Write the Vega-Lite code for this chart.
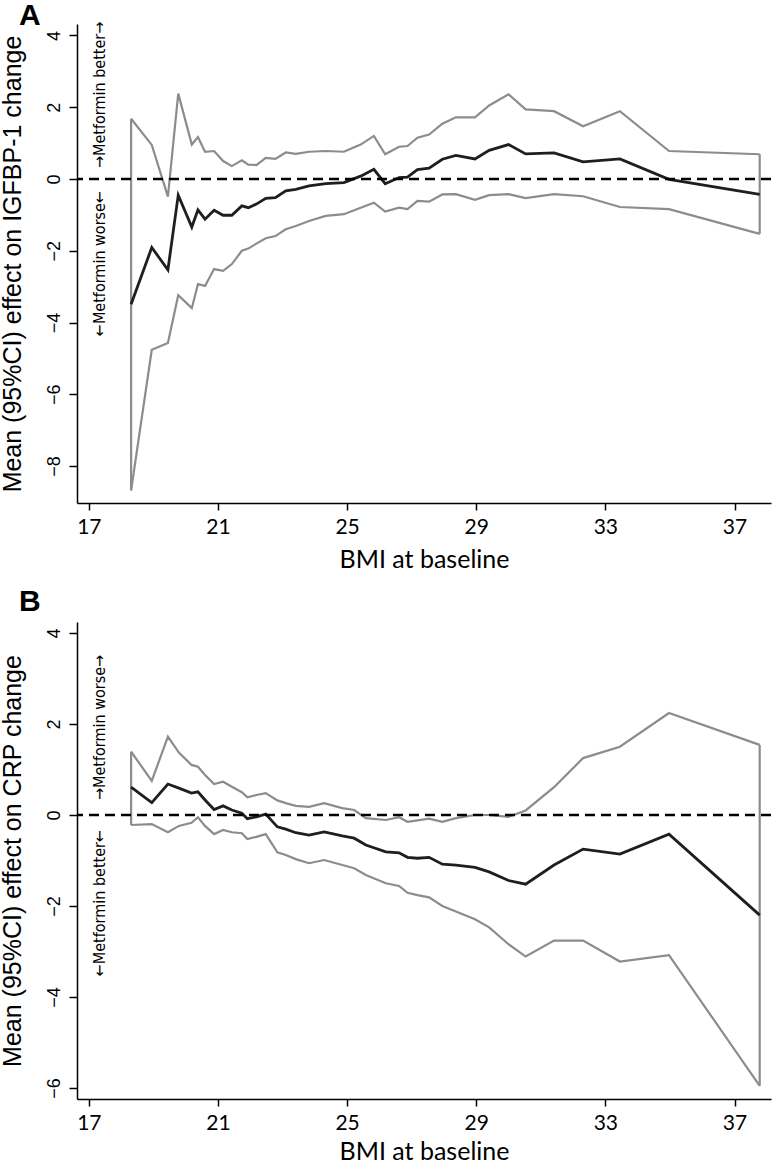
{
  "$schema": "https://vega.github.io/schema/vega-lite/v6.json",
  "padding": 0,
  "background": "white",
  "spacing": 15,
  "config": {"view": {"stroke": null}},
  "datasets": {
    "igf": [
      {"bmi": 18.31, "mean": -3.49, "lo": -8.68, "hi": 1.68},
      {"bmi": 18.95, "mean": -1.91, "lo": -4.76, "hi": 0.95},
      {"bmi": 19.45, "mean": -2.53, "lo": -4.57, "hi": -0.49},
      {"bmi": 19.77, "mean": -0.45, "lo": -3.24, "hi": 2.38},
      {"bmi": 20.19, "mean": -1.34, "lo": -3.60, "hi": 0.96},
      {"bmi": 20.38, "mean": -0.86, "lo": -2.93, "hi": 1.17},
      {"bmi": 20.60, "mean": -1.12, "lo": -2.98, "hi": 0.76},
      {"bmi": 20.88, "mean": -0.87, "lo": -2.51, "hi": 0.78},
      {"bmi": 21.16, "mean": -1.01, "lo": -2.56, "hi": 0.50},
      {"bmi": 21.43, "mean": -1.01, "lo": -2.37, "hi": 0.36},
      {"bmi": 21.74, "mean": -0.75, "lo": -2.00, "hi": 0.52},
      {"bmi": 21.94, "mean": -0.80, "lo": -1.94, "hi": 0.40},
      {"bmi": 22.19, "mean": -0.70, "lo": -1.80, "hi": 0.39},
      {"bmi": 22.48, "mean": -0.54, "lo": -1.65, "hi": 0.59},
      {"bmi": 22.78, "mean": -0.52, "lo": -1.59, "hi": 0.56},
      {"bmi": 23.10, "mean": -0.33, "lo": -1.40, "hi": 0.74},
      {"bmi": 23.41, "mean": -0.29, "lo": -1.31, "hi": 0.70},
      {"bmi": 23.82, "mean": -0.19, "lo": -1.17, "hi": 0.76},
      {"bmi": 24.34, "mean": -0.13, "lo": -1.03, "hi": 0.78},
      {"bmi": 24.90, "mean": -0.10, "lo": -0.98, "hi": 0.76},
      {"bmi": 25.42, "mean": 0.08, "lo": -0.80, "hi": 0.96},
      {"bmi": 25.83, "mean": 0.27, "lo": -0.66, "hi": 1.20},
      {"bmi": 26.18, "mean": -0.13, "lo": -0.91, "hi": 0.69},
      {"bmi": 26.61, "mean": 0.04, "lo": -0.80, "hi": 0.90},
      {"bmi": 26.87, "mean": 0.05, "lo": -0.84, "hi": 0.92},
      {"bmi": 27.18, "mean": 0.26, "lo": -0.61, "hi": 1.15},
      {"bmi": 27.54, "mean": 0.30, "lo": -0.63, "hi": 1.24},
      {"bmi": 27.95, "mean": 0.55, "lo": -0.43, "hi": 1.54},
      {"bmi": 28.37, "mean": 0.66, "lo": -0.42, "hi": 1.72},
      {"bmi": 28.96, "mean": 0.56, "lo": -0.58, "hi": 1.72},
      {"bmi": 29.40, "mean": 0.80, "lo": -0.45, "hi": 2.05},
      {"bmi": 30.00, "mean": 0.96, "lo": -0.42, "hi": 2.36},
      {"bmi": 30.53, "mean": 0.70, "lo": -0.53, "hi": 1.94},
      {"bmi": 31.41, "mean": 0.73, "lo": -0.42, "hi": 1.89},
      {"bmi": 32.31, "mean": 0.48, "lo": -0.48, "hi": 1.47},
      {"bmi": 33.45, "mean": 0.56, "lo": -0.78, "hi": 1.89},
      {"bmi": 34.97, "mean": -0.01, "lo": -0.84, "hi": 0.78},
      {"bmi": 37.78, "mean": -0.43, "lo": -1.53, "hi": 0.69}
    ],
    "crp": [
      {"bmi": 18.31, "mean": 0.61, "lo": -0.22, "hi": 1.39},
      {"bmi": 18.95, "mean": 0.27, "lo": -0.20, "hi": 0.75},
      {"bmi": 19.45, "mean": 0.68, "lo": -0.38, "hi": 1.72},
      {"bmi": 19.79, "mean": 0.59, "lo": -0.24, "hi": 1.37},
      {"bmi": 20.18, "mean": 0.48, "lo": -0.17, "hi": 1.10},
      {"bmi": 20.38, "mean": 0.51, "lo": -0.05, "hi": 1.06},
      {"bmi": 20.60, "mean": 0.33, "lo": -0.24, "hi": 0.88},
      {"bmi": 20.88, "mean": 0.12, "lo": -0.42, "hi": 0.68},
      {"bmi": 21.16, "mean": 0.20, "lo": -0.33, "hi": 0.73},
      {"bmi": 21.43, "mean": 0.11, "lo": -0.38, "hi": 0.62},
      {"bmi": 21.74, "mean": 0.04, "lo": -0.40, "hi": 0.50},
      {"bmi": 21.91, "mean": -0.08, "lo": -0.53, "hi": 0.39},
      {"bmi": 22.19, "mean": -0.04, "lo": -0.48, "hi": 0.44},
      {"bmi": 22.48, "mean": 0.02, "lo": -0.42, "hi": 0.48},
      {"bmi": 22.84, "mean": -0.26, "lo": -0.82, "hi": 0.32},
      {"bmi": 23.10, "mean": -0.31, "lo": -0.88, "hi": 0.26},
      {"bmi": 23.41, "mean": -0.39, "lo": -0.97, "hi": 0.20},
      {"bmi": 23.82, "mean": -0.44, "lo": -1.06, "hi": 0.18},
      {"bmi": 24.29, "mean": -0.37, "lo": -0.99, "hi": 0.26},
      {"bmi": 24.85, "mean": -0.46, "lo": -1.10, "hi": 0.15},
      {"bmi": 25.22, "mean": -0.51, "lo": -1.17, "hi": 0.11},
      {"bmi": 25.58, "mean": -0.66, "lo": -1.32, "hi": -0.07},
      {"bmi": 26.20, "mean": -0.81, "lo": -1.50, "hi": -0.11},
      {"bmi": 26.61, "mean": -0.83, "lo": -1.56, "hi": -0.05},
      {"bmi": 26.87, "mean": -0.93, "lo": -1.71, "hi": -0.15},
      {"bmi": 27.18, "mean": -0.95, "lo": -1.76, "hi": -0.12},
      {"bmi": 27.54, "mean": -0.93, "lo": -1.81, "hi": -0.08},
      {"bmi": 27.95, "mean": -1.08, "lo": -2.00, "hi": -0.15},
      {"bmi": 28.37, "mean": -1.10, "lo": -2.12, "hi": -0.07},
      {"bmi": 28.96, "mean": -1.15, "lo": -2.29, "hi": 0.00},
      {"bmi": 29.40, "mean": -1.25, "lo": -2.47, "hi": 0.00},
      {"bmi": 30.00, "mean": -1.44, "lo": -2.84, "hi": -0.04},
      {"bmi": 30.53, "mean": -1.52, "lo": -3.11, "hi": 0.10},
      {"bmi": 31.41, "mean": -1.10, "lo": -2.76, "hi": 0.61},
      {"bmi": 32.31, "mean": -0.75, "lo": -2.76, "hi": 1.25},
      {"bmi": 33.45, "mean": -0.86, "lo": -3.22, "hi": 1.50},
      {"bmi": 34.97, "mean": -0.42, "lo": -3.08, "hi": 2.24},
      {"bmi": 37.78, "mean": -2.20, "lo": -5.95, "hi": 1.54}
    ],
    "annA": [
      {"label": "→Metformin better→", "bmi": 17.35, "eff": 0, "side": "up"},
      {"label": "←Metformin worse←", "bmi": 17.35, "eff": 0, "side": "down"}
    ],
    "annB": [
      {"label": "→Metformin worse→", "bmi": 17.35, "eff": 0, "side": "up"},
      {"label": "←Metformin better←", "bmi": 17.35, "eff": 0, "side": "down"}
    ]
  },
  "vconcat": [
    {
      "title": {"text": "A", "anchor": "start", "frame": "group", "font": "Liberation Sans", "fontSize": 30, "fontWeight": "bold", "color": "black", "dx": -58, "offset": -9},
      "width": 694,
      "height": 479,
      "layer": [
        {
          "data": {"name": "igf"},
          "mark": {"type": "line", "color": "#8c8c8c", "strokeWidth": 2.2},
          "encoding": {
            "x": {"field": "bmi", "type": "quantitative", "scale": {"domain": [16.634, 38.13], "nice": false, "zero": false},
              "axis": {"values": [17, 21, 25, 29, 33, 37], "title": "BMI at baseline", "labelFont": "Lato", "labelFontSize": 21, "labelColor": "black", "labelPadding": 6, "labelFlush": false, "tickSize": 7, "tickColor": "black", "tickWidth": 1.5, "domainColor": "black", "domainWidth": 1.5, "grid": false, "titleFont": "Lato", "titleFontSize": 25, "titleFontWeight": "normal", "titleColor": "black", "titlePadding": 10}},
            "y": {"field": "lo", "type": "quantitative", "scale": {"domain": [-9.03, 4.32], "nice": false, "zero": false},
              "axis": {"values": [-8, -6, -4, -2, 0, 2, 4], "format": "d", "title": "Mean (95%CI) effect on IGFBP-1 change", "labelAngle": 270, "labelFont": "Liberation Sans", "labelFontSize": 18, "labelColor": "black", "labelPadding": 6, "tickSize": 8, "tickColor": "black", "tickWidth": 1.5, "domainColor": "black", "domainWidth": 1.5, "grid": false, "titleFont": "Liberation Sans", "titleFontSize": 25, "titleFontWeight": "normal", "titleColor": "black", "titlePadding": 20,
                "encode": {"labels": {"update": {"angle": {"value": 270}, "align": {"value": "center"}, "baseline": {"value": "bottom"}}}}}}
          }
        },
        {
          "data": {"name": "igf"},
          "mark": {"type": "line", "color": "#8c8c8c", "strokeWidth": 2.2},
          "encoding": {
            "x": {"field": "bmi", "type": "quantitative"},
            "y": {"field": "hi", "type": "quantitative"}
          }
        },
        {
          "data": {"name": "igf"},
          "transform": [{"filter": "datum.bmi < 18.4 || datum.bmi > 37.7"}],
          "mark": {"type": "rule", "color": "#8c8c8c", "strokeWidth": 2.2},
          "encoding": {
            "x": {"field": "bmi", "type": "quantitative"},
            "y": {"field": "lo", "type": "quantitative"},
            "y2": {"field": "hi"}
          }
        },
        {
          "data": {"name": "igf"},
          "mark": {"type": "line", "color": "#1e1e1e", "strokeWidth": 2.8},
          "encoding": {
            "x": {"field": "bmi", "type": "quantitative"},
            "y": {"field": "mean", "type": "quantitative"}
          }
        },
        {
          "data": {"values": [{"ref": 0}]},
          "mark": {"type": "rule", "color": "black", "strokeWidth": 2.5, "strokeDash": [10, 6]},
          "encoding": {
            "y": {"field": "ref", "type": "quantitative"}
          }
        },
        {
          "data": {"name": "annA"},
          "transform": [{"filter": "datum.side == 'up'"}],
          "mark": {"type": "text", "angle": 270, "align": "left", "baseline": "middle", "dx": 11, "font": "DejaVu Sans Condensed, Liberation Sans Narrow, Liberation Sans", "fontSize": 16, "color": "black"},
          "encoding": {
            "x": {"field": "bmi", "type": "quantitative"},
            "y": {"field": "eff", "type": "quantitative"},
            "text": {"field": "label"}
          }
        },
        {
          "data": {"name": "annA"},
          "transform": [{"filter": "datum.side == 'down'"}],
          "mark": {"type": "text", "angle": 270, "align": "right", "baseline": "middle", "dx": -12, "font": "DejaVu Sans Condensed, Liberation Sans Narrow, Liberation Sans", "fontSize": 16, "color": "black"},
          "encoding": {
            "x": {"field": "bmi", "type": "quantitative"},
            "y": {"field": "eff", "type": "quantitative"},
            "text": {"field": "label"}
          }
        }
      ]
    },
    {
      "title": {"text": "B", "anchor": "start", "frame": "group", "font": "Liberation Sans", "fontSize": 30, "fontWeight": "bold", "color": "black", "dx": -58, "offset": 5},
      "width": 694,
      "height": 477,
      "layer": [
        {
          "data": {"name": "crp"},
          "mark": {"type": "line", "color": "#8c8c8c", "strokeWidth": 2.2},
          "encoding": {
            "x": {"field": "bmi", "type": "quantitative", "scale": {"domain": [16.634, 38.13], "nice": false, "zero": false},
              "axis": {"values": [17, 21, 25, 29, 33, 37], "title": "BMI at baseline", "labelFont": "Lato", "labelFontSize": 21, "labelColor": "black", "labelPadding": 6, "labelFlush": false, "tickSize": 7, "tickColor": "black", "tickWidth": 1.5, "domainColor": "black", "domainWidth": 1.5, "grid": false, "titleFont": "Lato", "titleFontSize": 25, "titleFontWeight": "normal", "titleColor": "black", "titlePadding": 6}},
            "y": {"field": "lo", "type": "quantitative", "scale": {"domain": [-6.24, 4.24], "nice": false, "zero": false},
              "axis": {"values": [-6, -4, -2, 0, 2, 4], "format": "d", "title": "Mean (95%CI) effect on CRP change", "labelAngle": 270, "labelFont": "Liberation Sans", "labelFontSize": 18, "labelColor": "black", "labelPadding": 6, "tickSize": 8, "tickColor": "black", "tickWidth": 1.5, "domainColor": "black", "domainWidth": 1.5, "grid": false, "titleFont": "Liberation Sans", "titleFontSize": 25, "titleFontWeight": "normal", "titleColor": "black", "titlePadding": 20,
                "encode": {"labels": {"update": {"angle": {"value": 270}, "align": {"value": "center"}, "baseline": {"value": "bottom"}}}}}}
          }
        },
        {
          "data": {"name": "crp"},
          "mark": {"type": "line", "color": "#8c8c8c", "strokeWidth": 2.2},
          "encoding": {
            "x": {"field": "bmi", "type": "quantitative"},
            "y": {"field": "hi", "type": "quantitative"}
          }
        },
        {
          "data": {"name": "crp"},
          "transform": [{"filter": "datum.bmi < 18.4 || datum.bmi > 37.7"}],
          "mark": {"type": "rule", "color": "#8c8c8c", "strokeWidth": 2.2},
          "encoding": {
            "x": {"field": "bmi", "type": "quantitative"},
            "y": {"field": "lo", "type": "quantitative"},
            "y2": {"field": "hi"}
          }
        },
        {
          "data": {"name": "crp"},
          "mark": {"type": "line", "color": "#1e1e1e", "strokeWidth": 2.8},
          "encoding": {
            "x": {"field": "bmi", "type": "quantitative"},
            "y": {"field": "mean", "type": "quantitative"}
          }
        },
        {
          "data": {"values": [{"ref": 0}]},
          "mark": {"type": "rule", "color": "black", "strokeWidth": 2.5, "strokeDash": [10, 6]},
          "encoding": {
            "y": {"field": "ref", "type": "quantitative"}
          }
        },
        {
          "data": {"name": "annB"},
          "transform": [{"filter": "datum.side == 'up'"}],
          "mark": {"type": "text", "angle": 270, "align": "left", "baseline": "middle", "dx": 15, "font": "DejaVu Sans Condensed, Liberation Sans Narrow, Liberation Sans", "fontSize": 16, "color": "black"},
          "encoding": {
            "x": {"field": "bmi", "type": "quantitative"},
            "y": {"field": "eff", "type": "quantitative"},
            "text": {"field": "label"}
          }
        },
        {
          "data": {"name": "annB"},
          "transform": [{"filter": "datum.side == 'down'"}],
          "mark": {"type": "text", "angle": 270, "align": "right", "baseline": "middle", "dx": -15, "font": "DejaVu Sans Condensed, Liberation Sans Narrow, Liberation Sans", "fontSize": 16, "color": "black"},
          "encoding": {
            "x": {"field": "bmi", "type": "quantitative"},
            "y": {"field": "eff", "type": "quantitative"},
            "text": {"field": "label"}
          }
        }
      ]
    }
  ]
}
